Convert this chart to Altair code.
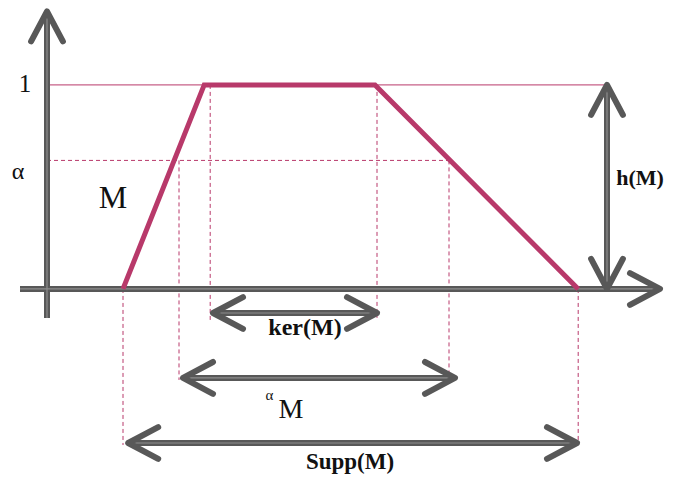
import altair as alt
import pandas as pd

# ---- data (diagram units: x in "support units", y in membership degree) ----
trap_x = [1.9, 3.93, 8.2, 13.28]
trap_y = [0.0, 1.0, 1.0, 0.0]
alpha = 0.63
h_x = 14.0

# dashed guide lines: x, y top, y bottom
guide_x = [1.9, 3.3, 4.08, 8.25, 10.05, 13.28]
guide_top = [0.0, alpha, 1.0, 1.0, alpha, 0.0]
guide_bot = [-0.765, -0.446, -0.152, -0.142, -0.456, -0.765]

# horizontal double arrows: label, x start, x end, y
arrow_names = ["ker(M)", "alphaM", "Supp(M)"]
arrow_x1 = [4.15, 3.4, 2.03]
arrow_x2 = [8.25, 10.2, 13.25]
arrow_y = [-0.118, -0.436, -0.755]

# axes
xaxis_x = [-0.675, 15.325]
yaxis_y = [-0.142, 1.36]

# labels: text, x, y (baseline), size, bold
label_text = ["1", "α", "M", "ker(M)", "α", "M", "Supp(M)", "h(M)"]
label_x = [-0.55, -0.725, 1.65, 6.45, 5.56, 6.1, 7.575, 14.825]
label_y = [0.966, 0.539, 0.397, -0.225, -0.544, -0.632, -0.882, 0.51]
label_size = [25, 24, 32, 24, 15, 28, 23, 22]
label_bold = [False, False, False, True, False, False, True, True]

XMIN, XMAX = -0.975, 15.45
YMIN, YMAX = -0.907, 1.377

PINK = "#b8396a"
GRAY = "#585858"
SERIF = "Liberation Serif"

xs = alt.Scale(domain=[XMIN, XMAX], nice=False, zero=False)
ys = alt.Scale(domain=[YMIN, YMAX], nice=False, zero=False)


def X(f="x"):
    return alt.X(f"{f}:Q", scale=xs, axis=None)


def Y(f="y"):
    return alt.Y(f"{f}:Q", scale=ys, axis=None)


# ---- tables ----
trap_df = pd.DataFrame({"x": trap_x, "y": trap_y, "o": range(len(trap_x))})

level_df = pd.DataFrame({"x": [0.0], "x2": [h_x], "y": [1.0]})
alpha_df = pd.DataFrame({"x": [0.0], "x2": [guide_x[4]], "y": [alpha]})
guide_df = pd.DataFrame({"x": guide_x, "y": guide_top, "y2": guide_bot})

shaft_df = pd.DataFrame(
    {
        "x": [xaxis_x[0], 0.0, h_x] + arrow_x1,
        "x2": [xaxis_x[1], 0.0, h_x] + arrow_x2,
        "y": [0.0, yaxis_y[0], 0.0] + arrow_y,
        "y2": [0.0, yaxis_y[1], 1.0] + arrow_y,
    }
)

head_x = [0.0, xaxis_x[1], h_x, h_x]
head_y = [yaxis_y[1], 0.0, 1.0, 0.0]
head_a = [270, 0, 270, 90]
for x1, x2, yy in zip(arrow_x1, arrow_x2, arrow_y):
    head_x += [x1, x2]
    head_y += [yy, yy]
    head_a += [180, 0]
head_df = pd.DataFrame({"x": head_x, "y": head_y, "a": head_a})

# ---- layers ----
level = alt.Chart(level_df).mark_rule(color=PINK, strokeWidth=1).encode(
    x=X(), x2="x2", y=Y()
)
alpha_line = alt.Chart(alpha_df).mark_rule(
    color=PINK, strokeWidth=1, strokeDash=[4, 3]
).encode(x=X(), x2="x2", y=Y())
guides = alt.Chart(guide_df).mark_rule(
    color=PINK, strokeWidth=1, strokeDash=[4, 3]
).encode(x=X(), y=Y(), y2="y2")

shafts = alt.Chart(shaft_df).mark_rule(color=GRAY, strokeWidth=6).encode(
    x=X(), x2="x2", y=Y(), y2="y2"
)
shaft_hi = alt.Chart(shaft_df).mark_rule(color="#8e8e8e", strokeWidth=1.2).encode(
    x=X(), x2="x2", y=Y(), y2="y2"
)

heads = alt.Chart(head_df).mark_point(
    shape="M -1 -0.53 L 0 0 L -1 0.53",
    size=3600,
    filled=False,
    stroke=GRAY,
    strokeWidth=6,
    strokeCap="round",
    strokeJoin="round",
    opacity=1,
).encode(x=X(), y=Y(), angle=alt.Angle("a:Q", scale=None))

trap = alt.Chart(trap_df).mark_line(
    color=PINK, strokeWidth=5, strokeJoin="miter"
).encode(x=X(), y=Y(), order="o:Q")

# ---- text ----
texts = []
for t, x, y, s, b in zip(label_text, label_x, label_y, label_size, label_bold):
    df = pd.DataFrame({"x": [x], "y": [y], "t": [t]})
    texts.append(
        alt.Chart(df).mark_text(
            font=SERIF,
            fontSize=s,
            fontWeight="bold" if b else "normal",
            color="#111111",
            align="center",
            baseline="alphabetic",
        ).encode(x=X(), y=Y(), text="t:N")
    )

chart = alt.layer(
    level, alpha_line, guides, shafts, shaft_hi, heads, trap, *texts
).properties(
    width=657,
    height=466,
    padding=0,
    autosize=alt.AutoSizeParams(type="none"),
    background="white",
).configure_view(stroke=None)

chart.save("out.html", embed_options={"renderer": "svg", "actions": False})
